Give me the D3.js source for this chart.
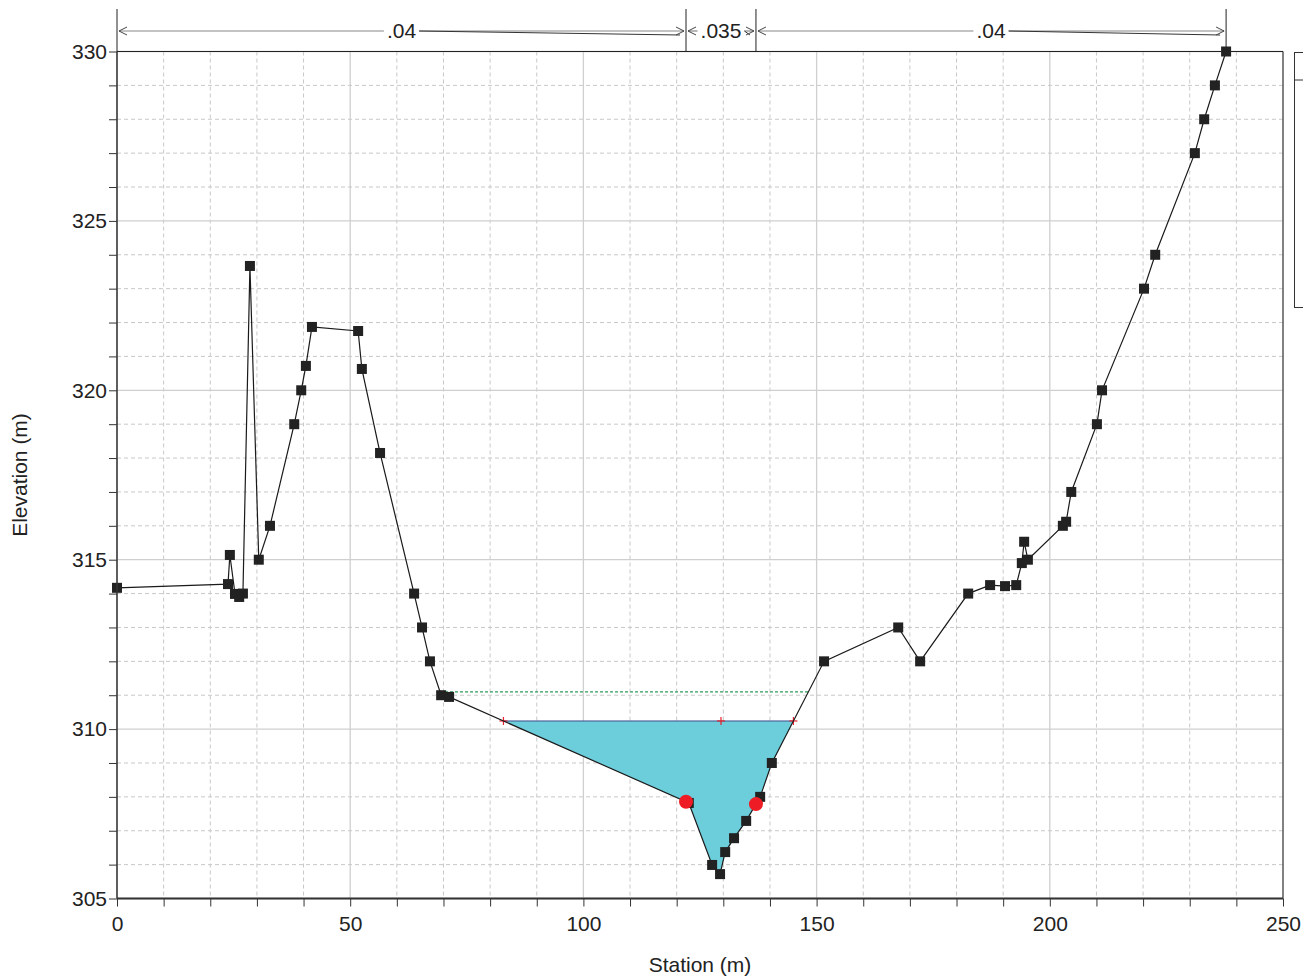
<!DOCTYPE html>
<html><head><meta charset="utf-8">
<script src="https://cdn.jsdelivr.net/npm/d3@7"></script>
<style>body{margin:0;background:#fff}svg{display:block;font-family:"Liberation Sans",Arial,sans-serif}</style>
</head><body>
<svg id="c" width="1303" height="976"></svg>
<script>
const station = [0, 23.8, 24.2, 25.3, 26.2, 27.0, 28.5, 30.4, 32.8, 38.0, 39.5, 40.5, 41.8, 51.7, 52.5, 56.4, 63.7, 65.4, 67.1, 69.5, 71.2,
  122.6, 127.6, 129.3, 130.4, 132.3, 134.9, 137.9, 140.4, 151.6, 167.5, 172.2, 182.5, 187.2, 190.4, 192.8, 194.0, 194.5, 195.3,
  202.8, 203.5, 204.6, 210.1, 211.2, 220.2, 222.6, 231.1, 233.1, 235.4, 237.8];
const elevation = [314.17, 314.28, 315.14, 313.99, 313.9, 314.0, 323.67, 315.0, 316.0, 319.0, 320.0, 320.72, 321.87, 321.75, 320.63, 318.15, 314.0, 313.0, 312.0, 311.0, 310.95,
  307.82, 305.99, 305.72, 306.37, 306.78, 307.29, 308.0, 309.0, 312.0, 313.0, 312.0, 314.0, 314.25, 314.22, 314.25, 314.9, 315.53, 315.0,
  316.0, 316.12, 317.0, 319.0, 320.0, 323.0, 324.0, 327.0, 328.0, 329.0, 330.0];
const wsElev = 310.24;
const egElev = 311.1;
const bankStations = [122.0, 137.0];
const wsMidStation = 129.5;
const nBreaks = [0, 122.0, 137.0, 237.8];
const nLabels = [".04", ".035", ".04"];
const xTickLabels = [0, 50, 100, 150, 200, 250];
const yTickLabels = [305, 310, 315, 320, 325, 330];

const svg = d3.select("#c");
const L = 117, R = 1283, T = 51.5, B = 898.5;
const x = d3.scaleLinear().domain([0, 250]).range([L, R]);
const y = d3.scaleLinear().domain([305, 330]).range([B, T]);
const pts = station.map((s, i) => [s, elevation[i]]);

function groundAt(s) {
  for (let i = 0; i < pts.length - 1; i++) {
    if (s >= pts[i][0] && s <= pts[i + 1][0]) {
      const t = (s - pts[i][0]) / (pts[i + 1][0] - pts[i][0]);
      return pts[i][1] + t * (pts[i + 1][1] - pts[i][1]);
    }
  }
  return null;
}
function crossings(level) {
  let minI = d3.minIndex(elevation);
  let li = minI; while (li > 0 && elevation[li - 1] < level) li--;
  let ri = minI; while (ri < pts.length - 1 && elevation[ri + 1] < level) ri++;
  const a = pts[li - 1], b = pts[li];
  const xl = a[0] + (level - a[1]) / (b[1] - a[1]) * (b[0] - a[0]);
  const c = pts[ri], d = pts[ri + 1];
  const xr = c[0] + (level - c[1]) / (d[1] - c[1]) * (d[0] - c[0]);
  return {xl, xr, li, ri};
}

// grid
const g = svg.append("g");
d3.range(0, 251, 10).forEach(v => {
  const major = v % 50 === 0;
  g.append("line").attr("x1", x(v)).attr("x2", x(v)).attr("y1", T).attr("y2", B)
    .attr("stroke", major ? "#cfcfcf" : "#c8c8c8").attr("stroke-width", major ? 1.3 : 1)
    .attr("stroke-dasharray", major ? null : "4,3");
});
d3.range(305, 331, 1).forEach(v => {
  const major = v % 5 === 0;
  g.append("line").attr("x1", L).attr("x2", R).attr("y1", y(v)).attr("y2", y(v))
    .attr("stroke", major ? "#cfcfcf" : "#c8c8c8").attr("stroke-width", major ? 1.3 : 1)
    .attr("stroke-dasharray", major ? null : "4,3");
});

// water fill
const ws = crossings(wsElev);
const poly = [[ws.xl, wsElev]];
for (let i = ws.li; i <= ws.ri; i++) poly.push(pts[i]);
poly.push([ws.xr, wsElev]);
svg.append("path").attr("d", d3.line().x(d => x(d[0])).y(d => y(d[1]))(poly) + "Z")
  .attr("fill", "#6ccddb").attr("stroke", "none");
svg.append("line").attr("x1", x(ws.xl)).attr("x2", x(ws.xr)).attr("y1", y(wsElev)).attr("y2", y(wsElev))
  .attr("stroke", "#3a4f8a").attr("stroke-width", 1);
[ws.xl, wsMidStation, ws.xr].forEach(s => {
  const sx = x(s);
  svg.append("line").attr("x1", sx - 4).attr("x2", sx + 4).attr("y1", y(wsElev)).attr("y2", y(wsElev)).attr("stroke", "#e8202a").attr("stroke-width", 1.2);
  svg.append("line").attr("x1", sx).attr("x2", sx).attr("y1", y(wsElev) - 4).attr("y2", y(wsElev) + 4).attr("stroke", "#e8202a").attr("stroke-width", 1.2);
});

// energy grade line
const eg = crossings(egElev);
svg.append("line").attr("x1", x(eg.xl)).attr("x2", x(eg.xr)).attr("y1", y(egElev)).attr("y2", y(egElev))
  .attr("stroke", "#2e9a5a").attr("stroke-width", 1.4).attr("stroke-dasharray", "3,2");

// ground line
svg.append("path").attr("d", d3.line().x(d => x(d[0])).y(d => y(d[1]))(pts))
  .attr("fill", "none").attr("stroke", "#1a1a1a").attr("stroke-width", 1.2);
svg.selectAll("rect.m").data(pts).enter().append("rect").attr("class", "m")
  .attr("x", d => x(d[0]) - 5).attr("y", d => y(d[1]) - 5).attr("width", 10).attr("height", 10)
  .attr("fill", "#222");

// bank stations
bankStations.forEach(s => {
  svg.append("circle").attr("cx", x(s)).attr("cy", y(groundAt(s))).attr("r", 7).attr("fill", "#ee1c24");
});

// frame
svg.append("line").attr("x1", L).attr("x2", R).attr("y1", T).attr("y2", T).attr("stroke", "#222").attr("stroke-width", 1);
svg.append("line").attr("x1", R).attr("x2", R).attr("y1", T).attr("y2", B).attr("stroke", "#222").attr("stroke-width", 1);

// axes
const xAxis = d3.axisBottom(x).tickValues(d3.range(0, 251, 10)).tickSize(8)
  .tickFormat(d => xTickLabels.includes(d) ? d : "");
const xa = svg.append("g").attr("transform", `translate(0,${B})`).call(xAxis);
xa.select(".domain").attr("stroke", "#333").attr("stroke-width", 2).attr("d", `M${L},0H${R}`);
xa.selectAll(".tick line").attr("stroke", "#333");
xa.selectAll("text").attr("font-size", 21).attr("fill", "#222").attr("dy", null).attr("y", 32);

const yAxis = d3.axisLeft(y).tickValues(d3.range(305, 331, 1)).tickSize(8)
  .tickFormat(d => yTickLabels.includes(d) ? d : "");
const ya = svg.append("g").attr("transform", `translate(${L},0)`).call(yAxis);
ya.select(".domain").attr("stroke", "#333").attr("stroke-width", 1.5).attr("d", `M0,${T}V${B}`);
ya.selectAll(".tick line").attr("stroke", "#333");
ya.selectAll("text").attr("font-size", 21).attr("fill", "#222").attr("x", -10);

svg.append("text").attr("x", x(125)).attr("y", 972).attr("text-anchor", "middle")
  .attr("font-size", 21).attr("fill", "#222").text("Station (m)");
svg.append("text").attr("transform", `translate(27,${(T + B) / 2}) rotate(-90)`).attr("text-anchor", "middle")
  .attr("font-size", 21).attr("fill", "#222").text("Elevation (m)");

// Manning's n annotation
const ay = 31;
nBreaks.forEach(s => {
  svg.append("line").attr("x1", x(s)).attr("x2", x(s)).attr("y1", 9).attr("y2", T).attr("stroke", "#222").attr("stroke-width", 1);
});
nLabels.forEach((lab, i) => {
  const x0 = x(nBreaks[i]), x1 = x(nBreaks[i + 1]), cx = (x0 + x1) / 2;
  const t = svg.append("text").attr("x", cx).attr("y", ay + 7).attr("text-anchor", "middle")
    .attr("font-size", 21).attr("fill", "#222").text(lab);
  const w = t.node().getComputedTextLength();
  const lx = cx - w / 2 - 3, rx = cx + w / 2 + 3;
  svg.append("line").attr("x1", x0 + 2).attr("x2", lx).attr("y1", ay).attr("y2", ay).attr("stroke", "#888").attr("stroke-width", 1.2);
  svg.append("line").attr("x1", rx).attr("x2", x1 - 2).attr("y1", ay).attr("y2", ay).attr("stroke", "#888").attr("stroke-width", 1.2);
  svg.append("line").attr("x1", rx).attr("x2", x1 - 6).attr("y1", ay).attr("y2", ay + 4).attr("stroke", "#333").attr("stroke-width", 1);
  svg.append("path").attr("d", `M${x0 + 10},${ay - 4}L${x0 + 2},${ay}L${x0 + 10},${ay + 4}`).attr("fill", "none").attr("stroke", "#444").attr("stroke-width", 1);
  svg.append("path").attr("d", `M${x1 - 10},${ay - 4}L${x1 - 2},${ay}L${x1 - 10},${ay + 4}`).attr("fill", "none").attr("stroke", "#444").attr("stroke-width", 1);
});

// clipped legend box
svg.append("rect").attr("x", 1294.5).attr("y", 52.5).attr("width", 30).attr("height", 255).attr("fill", "none").attr("stroke", "#333").attr("stroke-width", 1);
svg.append("line").attr("x1", 1294.5).attr("x2", 1303).attr("y1", 80).attr("y2", 80).attr("stroke", "#333").attr("stroke-width", 1);
</script>
</body></html>
